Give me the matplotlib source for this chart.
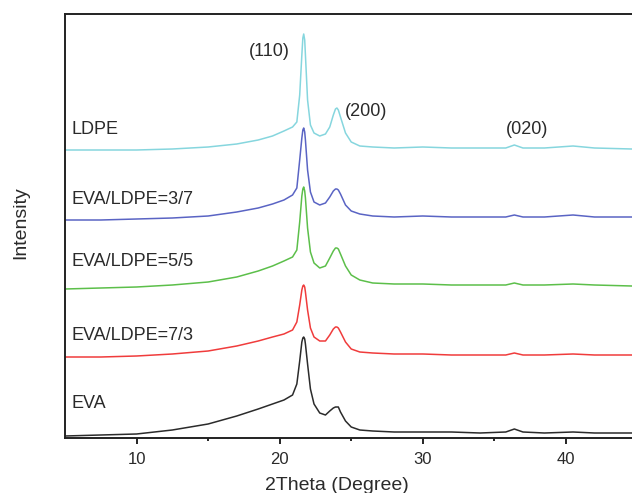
"""XRD patterns of EVA / LDPE blends, stacked."""

import matplotlib

matplotlib.use("Agg")
import matplotlib.pyplot as plt
import numpy as np

plt.rcParams["font.family"] = ["Liberation Sans", "DejaVu Sans"]

# 2theta sample positions (degree)
two_theta = [
    5, 7.5, 10, 12.5, 15, 17, 18.5, 19.5, 20.3, 20.9, 21.2, 21.4, 21.55, 21.62,
    21.68, 21.75, 21.8, 21.95, 22.15, 22.4, 22.8, 23.2, 23.5, 23.75, 23.9, 24.0,
    24.1, 24.25, 24.6, 25.0, 25.6, 26.5, 28, 30, 32, 34, 35.8, 36.4, 37.0, 38.5,
    40.5, 42, 44.6,
]

# intensities (a.u., own baseline = 0)
eva = [
    1, 2, 3, 7, 13, 21, 28, 33, 37, 42, 53, 76, 95, 99,
    100, 98, 93, 73, 48, 33, 24, 22, 26, 29, 30, 30,
    30, 25, 16, 10, 7, 6, 5, 5, 5, 4, 5, 8, 5, 4,
    5, 4, 4,
]
eva_ldpe_73 = [
    0, 0, 1, 3, 6, 11, 16, 20, 23, 27, 35, 52, 67, 71,
    72, 70, 65, 47, 29, 20, 16, 16, 22, 28, 30, 30,
    29, 25, 15, 8, 5, 4, 3, 3, 2, 2, 2, 4, 2, 2,
    3, 2, 2,
]
eva_ldpe_55 = [
    -1, 0, 1, 3, 6, 11, 17, 22, 27, 31, 38, 66, 92, 99,
    101, 97, 90, 60, 36, 25, 20, 22, 30, 37, 40, 40,
    39, 34, 22, 13, 8, 5, 4, 4, 3, 3, 3, 5, 3, 3,
    4, 3, 2,
]
eva_ldpe_37 = [
    0, 0, 1, 2, 4, 8, 12, 16, 20, 25, 32, 60, 82, 90,
    92, 88, 80, 50, 28, 18, 15, 17, 23, 29, 31, 31,
    30, 26, 15, 9, 6, 4, 3, 4, 3, 3, 3, 5, 3, 3,
    5, 3, 3,
]
ldpe = [
    0, 0, 0, 1, 3, 6, 10, 14, 19, 23, 28, 55, 95, 112,
    116, 110, 95, 50, 25, 17, 14, 16, 23, 35, 41, 42,
    40, 33, 17, 8, 4, 3, 2, 3, 2, 2, 2, 5, 2, 2,
    4, 2, 1,
]

series = [eva, eva_ldpe_73, eva_ldpe_55, eva_ldpe_37, ldpe]
names = ["EVA", "EVA/LDPE=7/3", "EVA/LDPE=5/5", "EVA/LDPE=3/7", "LDPE"]
offsets = [1, 81, 150, 218, 288]
colors = ["#2b2b2b", "#f03c3c", "#5cbf4a", "#5a64c4", "#86d6de"]
label_y = [35, 103, 176, 238, 308]

# reflection labels: (text, 2theta, height, alignment)
peaks = [("(110)", 20.7, 387, "right"), ("(200)", 24.55, 327, "left"), ("(020)", 37.3, 309, "center")]

text_color = "#2a2a2a"

fig = plt.figure(figsize=(6.32, 4.93), dpi=100)
ax = fig.add_axes([65 / 632, 55 / 493, 567 / 632, 424 / 493])

x = np.array(two_theta)
for values, off, color in zip(series, offsets, colors):
    ax.plot(x, np.array(values) + off, color=color, linewidth=1.1)

for name, y in zip(names, label_y):
    ax.text(5.45, y, name, ha="left", va="center", fontsize=13, color=text_color)

for label, px, py, ha in peaks:
    ax.text(px, py, label, ha=ha, va="center", fontsize=13, color=text_color)

ax.set_xlim(5, 44.62)
ax.set_ylim(0, 424)
ax.set_xticks([10, 20, 30, 40])
ax.set_xticks([15, 25, 35], minor=True)
ax.set_yticks([])
ax.tick_params(axis="x", which="major", direction="out", length=4, width=1.2,
               labelsize=12, labelcolor=text_color, pad=6)
ax.tick_params(axis="x", which="minor", direction="out", length=2.5, width=1.2)
ax.spines["right"].set_visible(False)
for side in ("left", "top", "bottom"):
    ax.spines[side].set_linewidth(1.4)
    ax.spines[side].set_color("#222222")

fig.text(21 / 632, 1 - 223 / 493, "Intensity", rotation=90, ha="center", va="center",
         fontsize=14, color=text_color)
fig.text(337 / 632, 1 - 486 / 493, "2Theta (Degree)", ha="center", va="center",
         fontsize=14, color=text_color)

fig.savefig("out.png", dpi=100, facecolor="white")
